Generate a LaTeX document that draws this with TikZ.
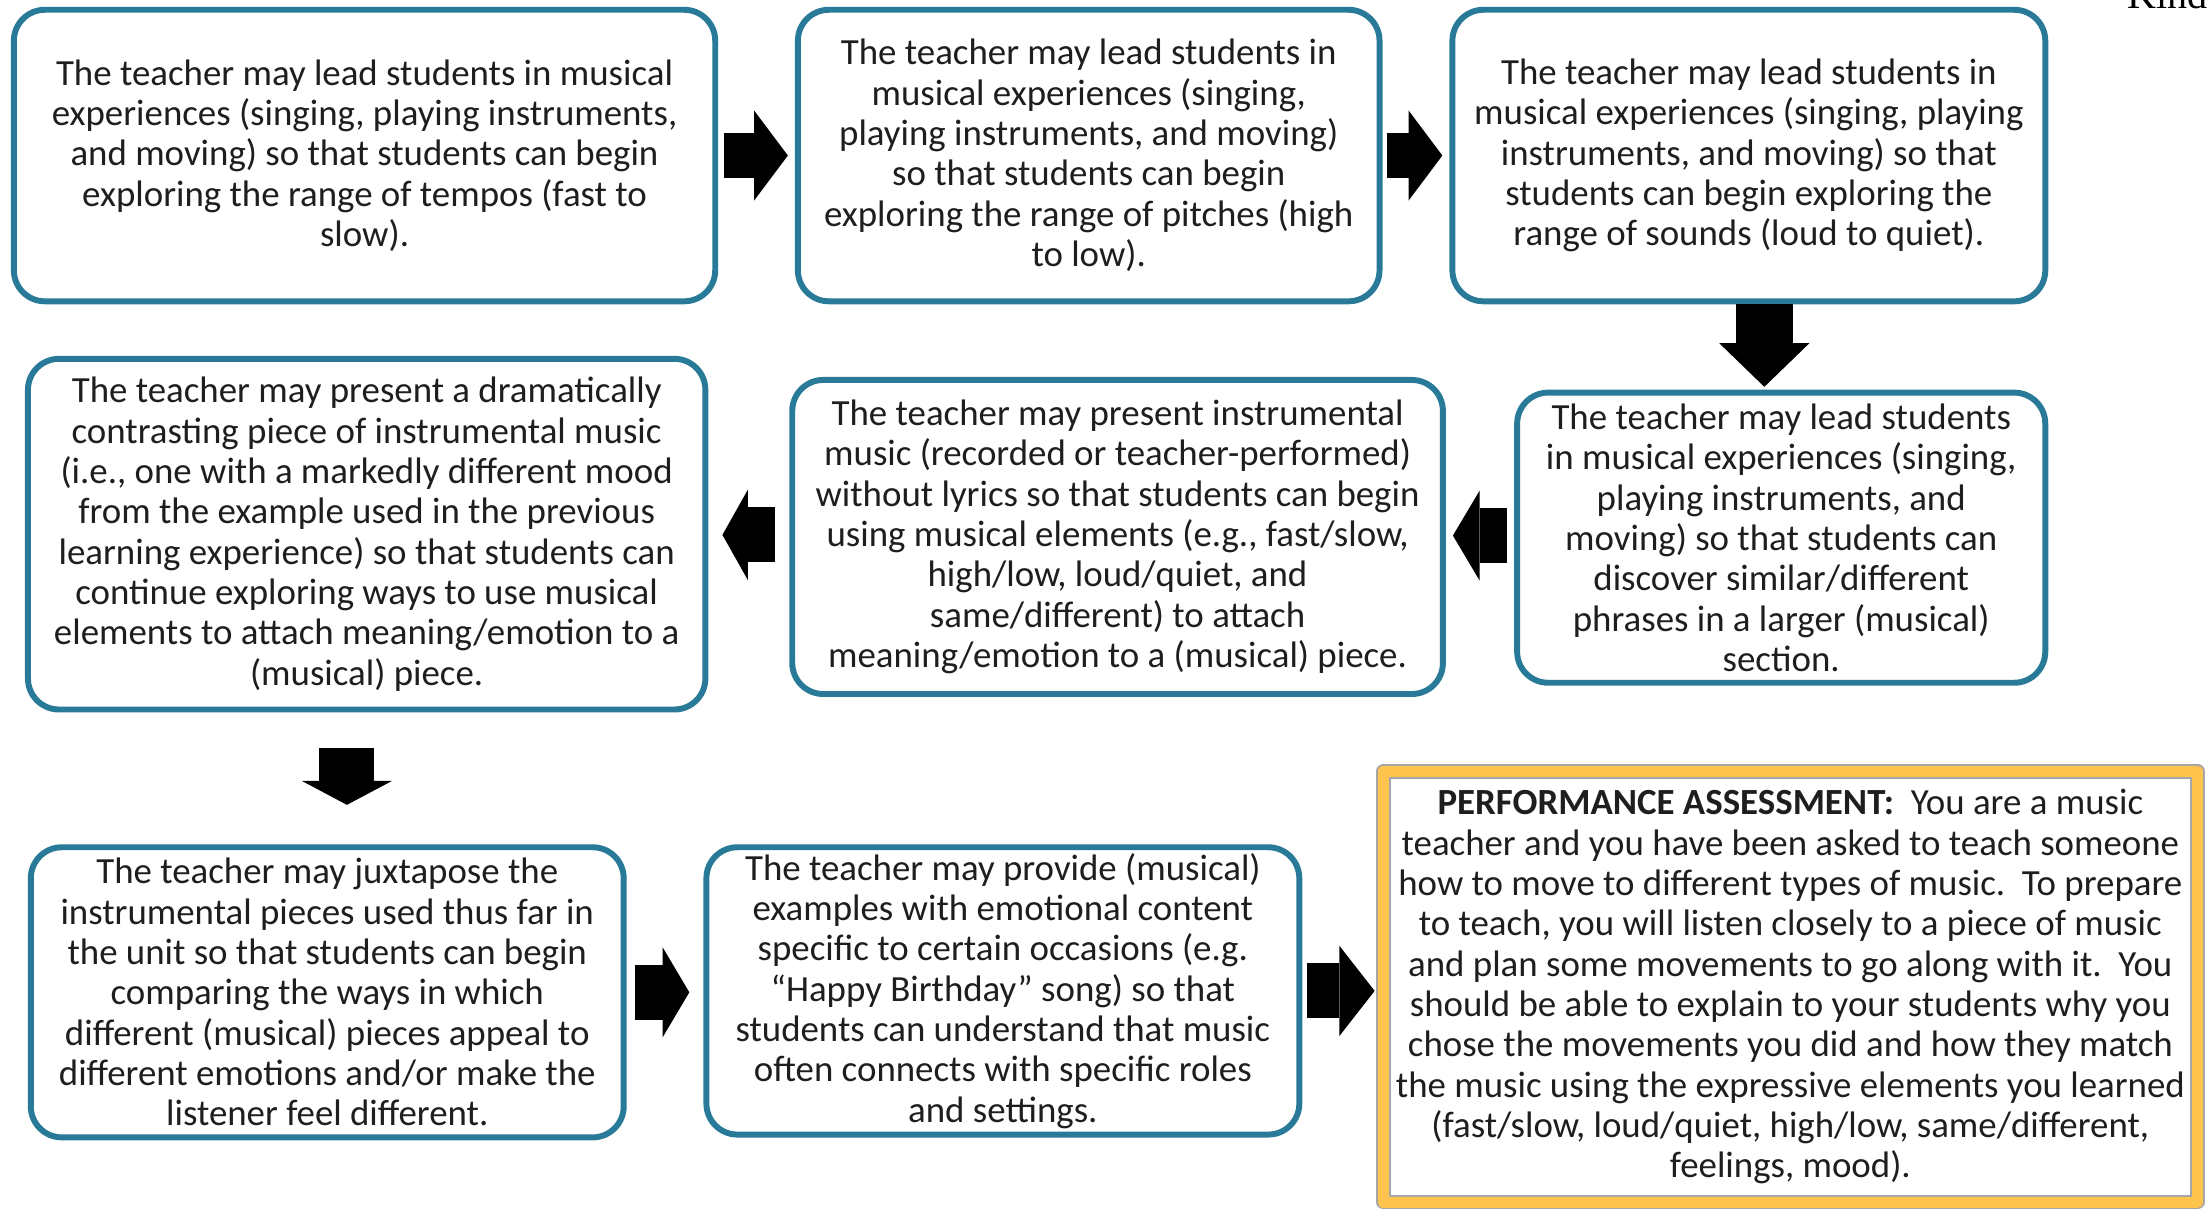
\documentclass[tikz,border=0pt]{standalone}
\usepackage{fontspec}
\setmainfont{Carlito}
\newfontfamily\headfont{Liberation Serif}
\usetikzlibrary{arrows.meta}
\definecolor{boxblue}{RGB}{40,122,152}
\definecolor{gold}{RGB}{255,196,77}
\definecolor{ink}{RGB}{30,30,30}
\begin{document}
\begin{tikzpicture}[x=0.01cm,y=-0.01cm,line join=round,
		box/.style={draw=boxblue,line width=1.2pt,rounded corners=0.22cm,fill=white,align=center,text=ink,inner sep=0pt,font=\fontsize{7.45}{8.15}\selectfont},
		flow/.style={line width=0.39cm,-{Triangle[width=0.64cm,length=#1,line width=0pt]}},
		flow/.default=0.24cm]
	\useasboundingbox (0,0) rectangle (1568,860);
	\node[anchor=base west,inner sep=0pt,font=\headfont\fontsize{8.1}{9}\selectfont] (kind) at (1511,6) {Kind};
	\node[box,minimum width=4.98cm,minimum height=2.07cm] (a1) at (259,110.5) {The teacher may lead students in musical\\experiences (singing, playing instruments,\\and moving) so that students can begin\\exploring the range of tempos (fast to\\slow).};
	\node[box,minimum width=4.13cm,minimum height=2.07cm] (a2) at (773.5,110.5) {The teacher may lead students in\\musical experiences (singing,\\playing instruments, and moving)\\so that students can begin\\exploring the range of pitches (high\\to low).};
	\node[box,minimum width=4.21cm,minimum height=2.07cm] (a3) at (1242.5,110.5) {The teacher may lead students in\\musical experiences (singing, playing\\instruments, and moving) so that\\students can begin exploring the\\range of sounds (loud to quiet).};
	\node[box,minimum width=3.75cm,minimum height=2.06cm] (b3) at (1265.5,382) {The teacher may lead students\\in musical experiences (singing,\\playing instruments, and\\moving) so that students can\\discover similar/different\\phrases in a larger (musical)\\section.};
	\node[box,minimum width=4.62cm,minimum height=2.23cm] (b2) at (794,381.5) {The teacher may present instrumental\\music (recorded or teacher-performed)\\without lyrics so that students can begin\\using musical elements (e.g., fast/slow,\\high/low, loud/quiet, and\\same/different) to attach\\meaning/emotion to a (musical) piece.};
	\node[box,minimum width=4.81cm,minimum height=2.49cm] (b1) at (260.5,379.5) {The teacher may present a dramatically\\contrasting piece of instrumental music\\(i.e., one with a markedly different mood\\from the example used in the previous\\learning experience) so that students can\\continue exploring ways to use musical\\elements to attach meaning/emotion to a\\(musical) piece.};
	\node[box,minimum width=4.21cm,minimum height=2.06cm] (c1) at (232.5,705) {The teacher may juxtapose the\\instrumental pieces used thus far in\\the unit so that students can begin\\comparing the ways in which\\different (musical) pieces appeal to\\different emotions and/or make the\\listener feel different.};
	\node[box,minimum width=4.21cm,minimum height=2.04cm] (c2) at (712.5,704) {The teacher may provide (musical)\\examples with emotional content\\specific to certain occasions (e.g.\\“Happy Birthday” song) so that\\students can understand that music\\often connects with specific roles\\and settings.};
	\node[box,rounded corners=0pt,draw=gray!70,line width=0.012cm,double=gold,double distance=0.08cm,outer sep=0pt,minimum width=5.78cm,minimum height=3.06cm] (c3) at (1272,701) {\textbf{PERFORMANCE ASSESSMENT:}\ \ You are a music\\teacher and you have been asked to teach someone\\how to move to different types of music.\ \ To prepare\\to teach, you will listen closely to a piece of music\\and plan some movements to go along with it.\ \ You\\should be able to explain to your students why you\\chose the movements you did and how they match\\the music using the expressive elements you learned\\(fast/slow, loud/quiet, high/low, same/different,\\feelings, mood).};
	\draw[flow,line width=0.32cm,shorten <=0.04cm,shorten >=0.05cm] (a1.east) -- (a2.west);
	\draw[flow,line width=0.32cm,shorten <=0.03cm,shorten >=0.05cm] (a2.east) -- (a3.west);
	\draw[flow=0.31cm,line width=0.40cm,shorten >=0.02cm] ([xshift=0.11cm]a3.south) -- ([xshift=0.11cm]a3.south |- b3.north);
	\draw[flow=0.19cm,shorten <=0.05cm,shorten >=0.05cm] ([yshift=0.015cm]b3.west) -- ([yshift=0.015cm]b3.west -| b2.east);
	\draw[flow=0.18cm,shorten <=0.10cm,shorten >=0.10cm] ([yshift=0.015cm]b2.west) -- ([yshift=0.015cm]b2.west -| b1.east);
	\draw[flow=0.17cm,shorten <=0.25cm,shorten >=0.28cm] ([xshift=-0.14cm]b1.south) -- ([xshift=-0.14cm]b1.south |- c1.north);
	\draw[flow=0.19cm,shorten <=0.06cm,shorten >=0.10cm] (c1.east) -- (c1.east -| c2.west);
	\draw[flow=0.25cm,shorten <=0.03cm,shorten >=0.062cm] (c2.east) -- (c2.east -| c3.west);
\end{tikzpicture}
\end{document}
